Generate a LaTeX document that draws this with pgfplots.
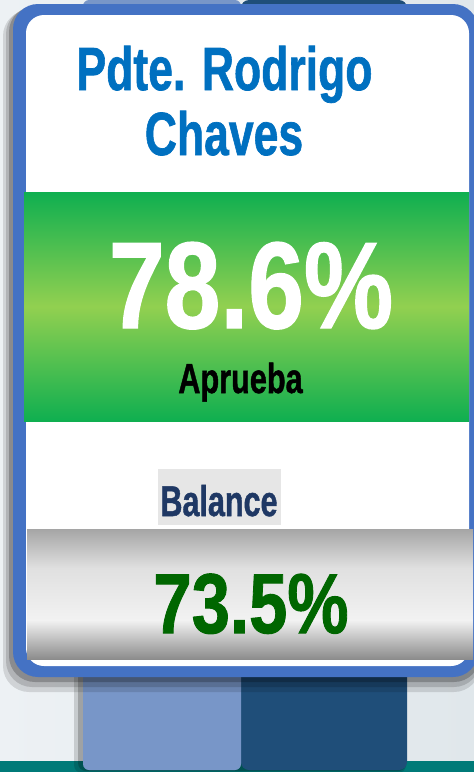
\documentclass[border=0pt]{standalone}
\usepackage{pgfplots}
\pgfplotsset{compat=1.18}
\usepackage{graphicx}
\usepackage{fontspec}
\setmainfont{Liberation Sans}[BoldFeatures={FakeBold=1.2}]
\definecolor{bgL}{HTML}{EDF1F4}
\definecolor{bgR}{HTML}{E0E7EB}
\definecolor{tealstrip}{HTML}{007A78}
\definecolor{lblue}{HTML}{7896C8}
\definecolor{dblue}{HTML}{1F4E79}
\definecolor{cardblue}{HTML}{4472C4}
\definecolor{gedge}{HTML}{0FAF50}
\definecolor{gmid}{HTML}{92D050}
\definecolor{gb1}{HTML}{8C8C8C}
\definecolor{gb2}{HTML}{F2F2F2}
\definecolor{gb3}{HTML}{E0E0E0}
\definecolor{gb4}{HTML}{A5A5A5}
\definecolor{titleblue}{HTML}{0070C0}
\definecolor{navy}{HTML}{1F3864}
\definecolor{dgreen}{HTML}{006600}
\definecolor{boxgray}{HTML}{E6E6E6}
\pgfdeclareverticalshading{grayband}{100bp}{color(0bp)=(gb1); color(25bp)=(gb1); color(40bp)=(gb2); color(60bp)=(gb3); color(75bp)=(gb4); color(100bp)=(gb4)}
\newcommand\cond[3]{{\fontsize{#1}{#1}\selectfont\bfseries\scalebox{#2}[1]{#3}}}
\begin{document}
\begin{tikzpicture}
\begin{axis}[width=474pt,height=772pt,scale only axis,
  xmin=0,xmax=474,ymin=0,ymax=772,y dir=reverse,hide axis,clip=true]
% background
\fill[left color=bgL,right color=bgR] (0,0) rectangle (474,772);
\fill[tealstrip] (0,761) rectangle (474,772);
% bar shadows
\fill[black,opacity=0.15,rounded corners=8pt] (74,200) rectangle (406,773);
\fill[black,opacity=0.2,rounded corners=8pt] (78,200) rectangle (406,771);
% the two bars (data)
\addplot[ybar,bar shift=0pt,bar width=166,fill=dblue,draw=none,rounded corners=8pt] coordinates {(324,770)};
\addplot[ybar,bar shift=0pt,bar width=158,fill=lblue,draw=none,rounded corners=6pt] coordinates {(162,770)};
% card shadow
\fill[black,opacity=0.12,rounded corners=26pt] (3,10) rectangle (480,692);
\fill[black,opacity=0.15,rounded corners=26pt] (6,8) rectangle (480,687);
\fill[black,opacity=0.22,rounded corners=26pt] (9,6) rectangle (480,682);
% card
\fill[cardblue,rounded corners=25pt] (13,4) rectangle (478,677);
\fill[white,rounded corners=18pt] (26,15) rectangle (469,666);
% green band
\shade[top color=gedge,bottom color=gedge,middle color=gmid] (24,192) rectangle (469,421);
% gray band
\shade[shading=grayband] (27,529) rectangle (473,659);
% Balance box
\fill[boxgray] (158,469) rectangle (281,525);
% texts
\node[anchor=base,inner sep=0pt,text=titleblue] at (224.5,90) {\cond{61}{0.73}{Pdte. Rodrigo}};
\node[anchor=base,inner sep=0pt,text=titleblue] at (224,155) {\cond{61}{0.73}{Chaves}};
\node[anchor=base,inner sep=0pt,text=white] at (251,328) {\cond{123}{0.815}{78.6\%}};
\node[anchor=base,inner sep=0pt,text=black] at (240.5,393) {\cond{42}{0.73}{Aprueba}};
\node[anchor=base,inner sep=0pt,text=navy] at (219,516) {\cond{43}{0.71}{Balance}};
\node[anchor=base,inner sep=0pt,text=dgreen] at (251,633) {\cond{85}{0.81}{73.5\%}};
\end{axis}
\end{tikzpicture}
\end{document}
